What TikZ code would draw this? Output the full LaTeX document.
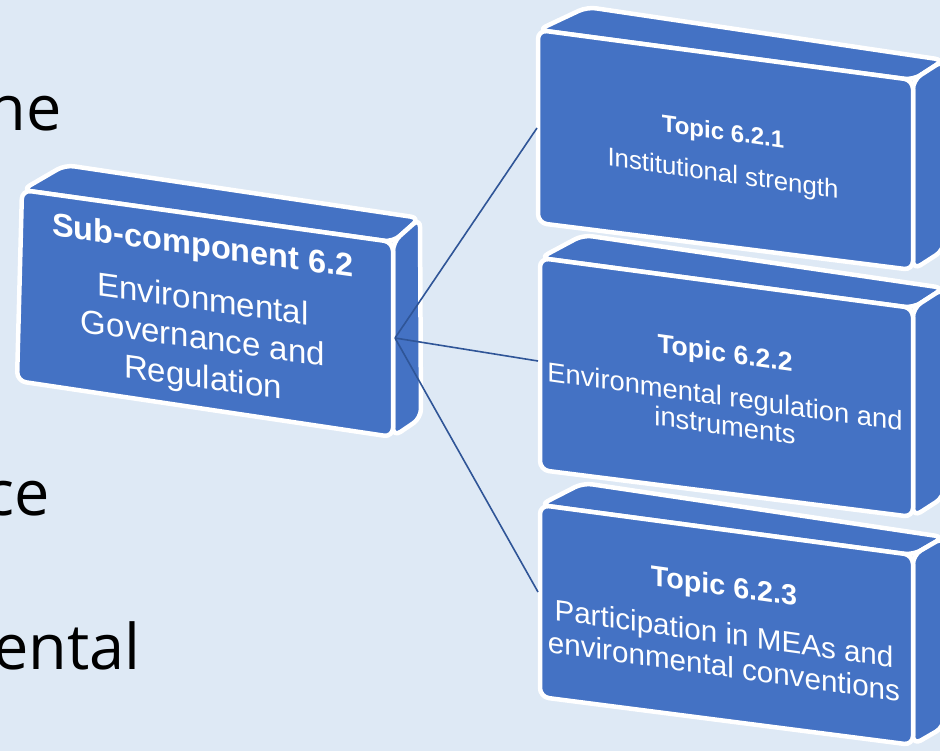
\documentclass[tikz,border=0pt]{standalone}
\usepackage{fontspec}
\setmainfont{Liberation Sans}
\newfontfamily\leftfont{Open Sans}
\definecolor{bg}{HTML}{DEE9F5}
\definecolor{boxblue}{HTML}{4472C4}
\definecolor{linkblue}{HTML}{2F5597}
\begin{document}
\begin{tikzpicture}[x=1pt,y=-1pt,
  face/.style={fill=boxblue, draw=white, line width=4.5pt, line join=round, rounded corners=9pt},
  link/.style={draw=linkblue, line width=1.6pt},
  boxtext/.style={text=white, align=center, inner sep=0pt, transform shape, yslant=-0.14},
  sidetext/.style={font=\leftfont\fontsize{63}{70}\selectfont, anchor=base east, inner sep=0pt, text=black}]
\useasboundingbox (0,0) rectangle (940,751);
\clip (0,0) rectangle (940,751);
\fill[bg] (0,0) rectangle (940,751);

% cut-off text at the left
\node[sidetext] (w1) at (62,131) {he};
\node[sidetext] (w2) at (50,515) {ce};
\node[sidetext] (w3) at (141,669) {ental};

% Topic 6.2.3 box
\draw[face] (540,505) -- (583,483) -- (944,537) -- (913,555) -- cycle;
\draw[face] (913,555) -- (944,537) -- (944,727) -- (913,745) -- cycle;
\draw[face] (540,505) -- (913,555) -- (913,745) -- (540,697) -- cycle;
\node[boxtext, font=\fontsize{29.6}{33}\selectfont] (t3) at (724,626)
  {{\fontsize{28.7}{30}\selectfont\bfseries Topic 6.2.3}\\[15pt]
   Participation in MEAs and\\ environmental conventions};

% Topic 6.2.2 box
\draw[face] (540,258) -- (583,235) -- (944,288) -- (913,308) -- cycle;
\draw[face] (913,308) -- (944,288) -- (944,497) -- (913,517) -- cycle;
\draw[face] (540,258) -- (913,308) -- (913,517) -- (540,470) -- cycle;
\node[boxtext, font=\fontsize{27.3}{29}\selectfont] (t2) at (725,389)
  {{\fontsize{26.5}{28}\selectfont\bfseries Topic 6.2.2}\\[15pt]
   Environmental regulation and\\ instruments};

% Topic 6.2.1 box
\draw[face] (538,30) -- (587,7) -- (944,60) -- (913,80) -- cycle;
\draw[face] (913,80) -- (944,60) -- (944,250) -- (913,270) -- cycle;
\draw[face] (538,30) -- (913,80) -- (913,270) -- (538,223) -- cycle;
\node[boxtext, font=\fontsize{25.8}{28}\selectfont] (t1) at (723,155)
  {{\fontsize{24}{26}\selectfont\bfseries Topic 6.2.1}\\[14pt]
   Institutional strength};

% Sub-component box
\draw[face] (22,190) -- (65,165) -- (420,218) -- (393,242) -- cycle;
\draw[face] (393,242) -- (420,218) -- (421,418) -- (393,437) -- cycle;
\draw[face] (22,190) -- (393,242) -- (393,437) -- (17,381) -- cycle;
\node[boxtext, font=\fontsize{33}{39}\selectfont] (s) at (203,314)
  {{\fontsize{32.5}{34}\selectfont\bfseries Sub-component 6.2}\\[15pt]
   Environmental\\ Governance and\\ Regulation};

% connectors
\coordinate (sE) at (395,338);
\coordinate (t1W) at (537,128);
\coordinate (t2W) at (538,361);
\coordinate (t3W) at (538,592);
\draw[link] (sE) -- (t1W);
\draw[link] (sE) -- (t2W);
\draw[link] (sE) -- (t3W);
\end{tikzpicture}
\end{document}
